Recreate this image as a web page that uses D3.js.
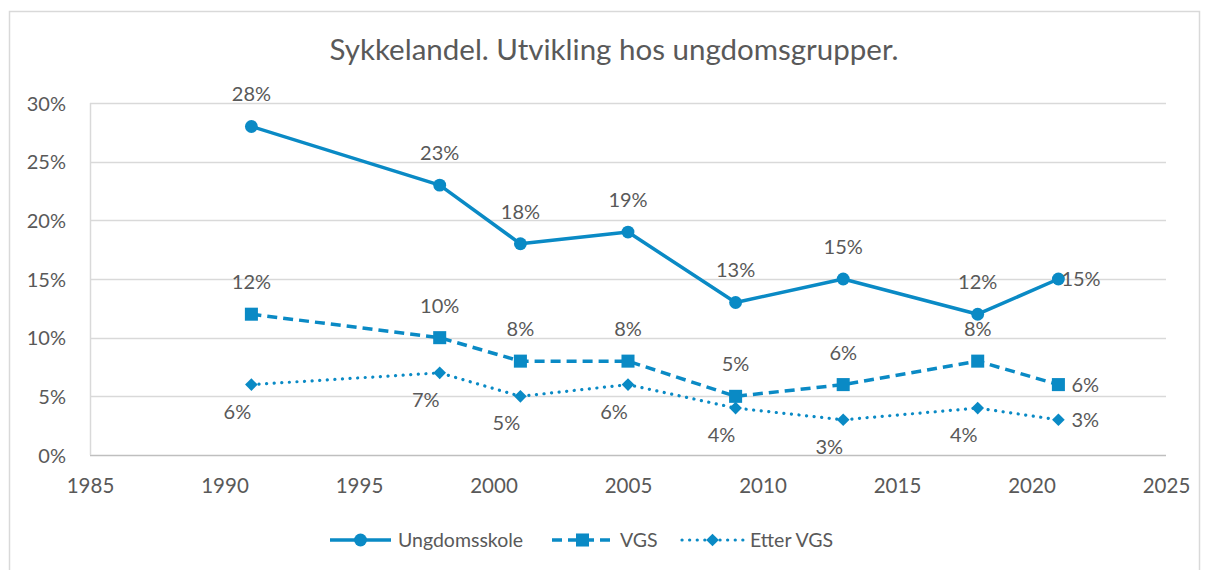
<!DOCTYPE html>
<html>
<head>
<meta charset="utf-8">
<script src="https://cdn.jsdelivr.net/npm/d3@7"></script>
<style>
  body { margin: 0; background: #fff; }
  text { font-family: Lato, "Open Sans", sans-serif; fill: #595959; }
</style>
</head>
<body>
<div id="chart"></div>
<script>
const years = [1991, 1998, 2001, 2005, 2009, 2013, 2018, 2021];
const ungdomsskole = [28, 23, 18, 19, 13, 15, 12, 15];
const vgs = [12, 10, 8, 8, 5, 6, 8, 6];
const etterVgs = [6, 7, 5, 6, 4, 3, 4, 3];
const seriesNames = ["Ungdomsskole", "VGS", "Etter VGS"];
const xTicks = [1985, 1990, 1995, 2000, 2005, 2010, 2015, 2020, 2025];
const yTicks = [0, 5, 10, 15, 20, 25, 30];

const width = 1208, height = 570;
const color = "#0a8ac5";
const margin = { left: 90, right: 42, top: 103, bottom: 115 };

const svg = d3.select("#chart").append("svg")
  .attr("width", width).attr("height", height);

// outer frame
svg.append("rect")
  .attr("x", 9.5).attr("y", 11.5)
  .attr("width", 1190).attr("height", 570)
  .attr("fill", "none").attr("stroke", "#d9d9d9").attr("stroke-width", 1.5);

const x = d3.scaleLinear().domain([1985, 2025]).range([margin.left, width - margin.right]);
const y = d3.scaleLinear().domain([0, 30]).range([height - margin.bottom, margin.top]);

svg.append("text")
  .attr("x", 614).attr("y", 60)
  .attr("text-anchor", "middle")
  .style("font-size", "29.5px")
  .text("Sykkelandel. Utvikling hos ungdomsgrupper.");

// gridlines
svg.append("g").selectAll("line")
  .data(yTicks)
  .enter().append("line")
  .attr("x1", x(1985)).attr("x2", x(2025))
  .attr("y1", d => Math.round(y(d)) + 0.5).attr("y2", d => Math.round(y(d)) + 0.5)
  .attr("stroke", d => d === 0 ? "#bfbfbf" : "#d9d9d9")
  .attr("stroke-width", 1.5);

svg.append("line")
  .attr("x1", x(1985) + 0.5).attr("x2", x(1985) + 0.5)
  .attr("y1", y(30)).attr("y2", y(0))
  .attr("stroke", "#d9d9d9").attr("stroke-width", 1.5);

// axis labels
const yAxis = d3.axisLeft(y).tickValues(yTicks).tickFormat(d => d + "%").tickSize(0).tickPadding(24);
const gy = svg.append("g").attr("transform", `translate(${x(1985)},0)`).call(yAxis);
gy.select(".domain").remove();
gy.selectAll("text").style("font-size", "20px").attr("fill", "#595959").attr("dy", "0.36em")
  .style("font-family", "Lato, 'Open Sans', sans-serif");

const xAxis = d3.axisBottom(x).tickValues(xTicks).tickFormat(d3.format("d")).tickSize(0).tickPadding(23);
const gx = svg.append("g").attr("transform", `translate(0,${y(0)})`).call(xAxis);
gx.select(".domain").remove();
gx.selectAll("text").style("font-size", "20.5px").attr("fill", "#595959")
  .style("font-family", "Lato, 'Open Sans', sans-serif");

const series = [
  { name: seriesNames[0], values: ungdomsskole, dash: null, marker: "circle", labelPos: "above" },
  { name: seriesNames[1], values: vgs, dash: "10,6", marker: "square", labelPos: "above" },
  { name: seriesNames[2], values: etterVgs, dash: "0.1,7.5", marker: "diamond", labelPos: "below" }
];

const symbolFor = {
  circle: d3.symbol().type(d3.symbolCircle).size(130),
  square: d3.symbol().type(d3.symbolSquare).size(170),
  diamond: d3.symbol().type(d3.symbolSquare).size(80)
};
const rot = m => m === "diamond" ? " rotate(45)" : "";

const line = d3.line().x(d => x(d[0])).y(d => y(d[1]));

series.forEach(s => {
  const pts = years.map((yr, i) => [yr, s.values[i]]);
  svg.append("path")
    .datum(pts)
    .attr("d", line)
    .attr("fill", "none")
    .attr("stroke", color)
    .attr("stroke-width", s.marker === "diamond" ? 3.2 : 3.5)
    .attr("stroke-linecap", s.marker === "diamond" ? "round" : "butt")
    .attr("stroke-linejoin", "round")
    .attr("stroke-dasharray", s.dash);

  svg.append("g").selectAll("path")
    .data(pts)
    .enter().append("path")
    .attr("d", symbolFor[s.marker])
    .attr("transform", d => `translate(${x(d[0])},${y(d[1])})` + rot(s.marker))
    .attr("fill", color);

  const last = pts.length - 1;
  svg.append("g").selectAll("text")
    .data(pts)
    .enter().append("text")
    .style("font-size", "20px")
    .attr("text-anchor", (d, i) => i === last ? "start" : "middle")
    .attr("x", (d, i) => {
      if (i === last) return x(d[0]) + (s.marker === "circle" ? 3 : 13);
      return s.labelPos === "above" ? x(d[0]) : x(d[0]) - 14;
    })
    .attr("y", (d, i) => {
      if (i === last) return y(d[1]) + 7;
      return s.labelPos === "above" ? y(d[1]) - 25 : y(d[1]) + 34;
    })
    .text(d => d[1] + "%");
});

// legend
const legendItems = [
  { name: seriesNames[0], x: 330, s: series[0] },
  { name: seriesNames[1], x: 552, s: series[1] },
  { name: seriesNames[2], x: 682, s: series[2] }
];
const legend = svg.append("g").attr("transform", "translate(0,540)");
legendItems.forEach(it => {
  legend.append("line")
    .attr("x1", it.x).attr("x2", it.x + 61)
    .attr("stroke", color)
    .attr("stroke-width", it.s.marker === "diamond" ? 3.2 : 3.5)
    .attr("stroke-linecap", it.s.marker === "diamond" ? "round" : "butt")
    .attr("stroke-dasharray", it.s.dash);
  legend.append("path")
    .attr("d", symbolFor[it.s.marker])
    .attr("transform", `translate(${it.x + 30.5},0)` + rot(it.s.marker))
    .attr("fill", color);
  legend.append("text")
    .attr("x", it.x + 68).attr("y", 7)
    .style("font-size", "19.5px")
    .text(it.name);
});
</script>
</body>
</html>
